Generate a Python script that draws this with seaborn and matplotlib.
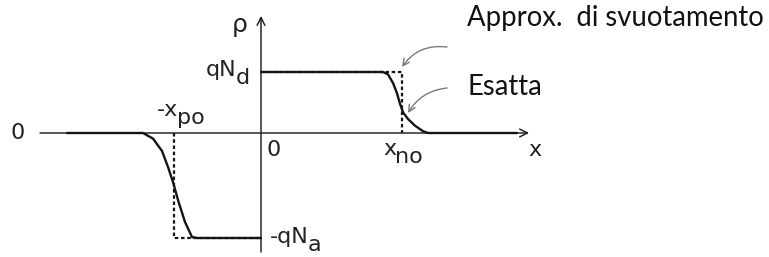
import matplotlib
matplotlib.use("Agg")
import matplotlib.pyplot as plt
import seaborn as sns
import pandas as pd

# ---- data (units: pixels of the reference, origin at the axes crossing) ----
x_po = 87          # depletion edge, p side
x_no = 141         # depletion edge, n side
qNd = 61           # donor charge level
qNa = 105          # acceptor charge level

# exact charge profile, p side
exact_p_x = [-194, -118, -108, -99, -93, -88, -83, -76, -69, -64, 0]
exact_p_y = [0, 0, -5.6, -18, -34, -49, -67, -89, -104, -105, -105]
# exact charge profile, n side
exact_n_x = [0, 122, 127, 132, 136, 139, 142, 147, 154, 162, 167, 256]
exact_n_y = [61, 61, 58.6, 50, 39.7, 29.3, 20.7, 14, 7.3, 1.8, 0, 0]

# depletion approximation (dashed boxes)
appr_p_x = [-x_po, -x_po, 0]
appr_p_y = [0, -qNa, -qNa]
appr_n_x = [0, x_no, x_no]
appr_n_y = [qNd, qNd, 0]

sns.set_theme(style="white")
plt.rcParams['font.family'] = ['DejaVu Sans']

fig = plt.figure(figsize=(7.69, 2.57), dpi=100)
ax = fig.add_axes([0, 0, 1, 1])

ink = '#151515'

dash = (0, (1.6, 1.2))
for xs, ys in [(appr_p_x, appr_p_y), (appr_n_x, appr_n_y)]:
    df = pd.DataFrame({'x': xs, 'y': ys})
    sns.lineplot(data=df, x='x', y='y', sort=False, estimator=None, ax=ax,
                 color=ink, lw=1.6, linestyle=dash)

for xs, ys in [(exact_p_x, exact_p_y), (exact_n_x, exact_n_y)]:
    df = pd.DataFrame({'x': xs, 'y': ys})
    sns.lineplot(data=df, x='x', y='y', sort=False, estimator=None, ax=ax,
                 color=ink, lw=1.7)

ax.set_xlim(-261, 508)
ax.set_ylim(-124, 133)
ax.axis('off')

# axes with arrows
ax.annotate('', xy=(268, 0), xytext=(-221, 0),
            arrowprops=dict(arrowstyle='->', color=ink, lw=1.0,
                            mutation_scale=14, shrinkA=0, shrinkB=0))
ax.annotate('', xy=(0, 117), xytext=(0, -119),
            arrowprops=dict(arrowstyle='->', color=ink, lw=1.0,
                            mutation_scale=14, shrinkA=0, shrinkB=0))

fs = 16
tc = '#222222'
DROP = -3  # points


def label(x, y, main, sub, anchor='left'):
    if anchor == 'left':
        t = ax.text(x, y, main, fontsize=fs, ha='left', va='baseline', color=tc)
    else:  # main text ends at x
        t = ax.text(x, y, main, fontsize=fs, ha='right', va='baseline', color=tc)
    ax.annotate(sub, xy=(1, 0), xycoords=t, xytext=(-0.5, DROP),
                textcoords='offset points', fontsize=fs, ha='left',
                va='baseline', color=tc)


ax.text(-21, 108, 'ρ', fontsize=18, ha='center', va='center', color=tc)
label(-25, 57, 'qN', 'd', anchor='right')
ax.text(-243, 0, '0', fontsize=fs, ha='center', va='center', color=tc)
label(-83, 17, '-x', 'po', anchor='right')
ax.text(6, -17, '0', fontsize=fs, ha='left', va='center', color=tc)
label(122, -22, 'x', 'no')
ax.text(267, -23, 'x', fontsize=fs, ha='left', va='baseline', color=tc)
label(9, -110, '-qN', 'a')

big = ['Lato', 'DejaVu Sans']
ax.text(206, 107, 'Approx.  di svuotamento', fontsize=19.8, family=big,
        ha='left', va='baseline', color='#111111')
ax.text(206, 38, 'Esatta', fontsize=19.8, family=big,
        ha='left', va='baseline', color='#111111')

gray = '#7a7a7a'
ax.annotate('', xy=(141, 66), xytext=(186, 86),
            arrowprops=dict(arrowstyle='->', color=gray, lw=1.0,
                            mutation_scale=12, shrinkA=0, shrinkB=0,
                            connectionstyle='arc3,rad=0.3'))
ax.annotate('', xy=(147, 20), xytext=(186, 45),
            arrowprops=dict(arrowstyle='->', color=gray, lw=1.0,
                            mutation_scale=12, shrinkA=0, shrinkB=0,
                            connectionstyle='arc3,rad=0.25'))

fig.savefig('out.png', dpi=100)
